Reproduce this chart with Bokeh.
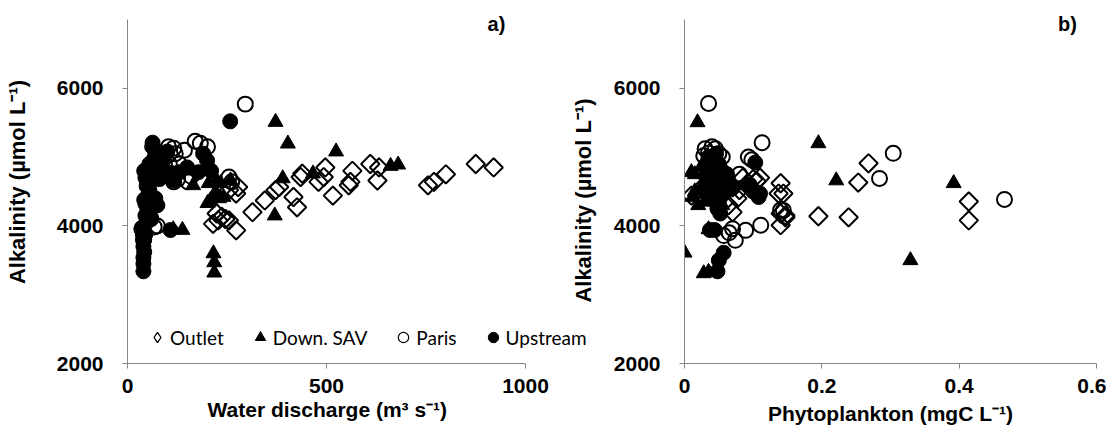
from math import pi, nan
from bokeh.plotting import figure
from bokeh.layouts import row
from bokeh.models import Range1d, FixedTicker, Legend, LegendItem, Label, Title
from bokeh.embed import file_html
from bokeh.resources import INLINE

# ---------------- data: panel a (water discharge, m3/s vs alkalinity) ----------------
outlet_q = [875, 920, 800, 770, 755, 632, 610, 628, 565, 560, 556, 497, 493, 480, 516, 439, 435,
            426, 417, 381, 372, 345, 314, 278, 273, 273, 255, 228, 224, 237, 246, 215, 255]
outlet_alk_a = [4900, 4850, 4750, 4640, 4590, 4850, 4900, 4660, 4800, 4640, 4590, 4850, 4710, 4640,
                4440, 4760, 4710, 4270, 4420, 4565, 4520, 4370, 4200, 4565, 4470, 3935, 4080, 4080,
                4180, 4130, 4100, 4030, 4520]

sav_q = [372, 403, 524, 390, 370, 466, 661, 680, 216, 218, 218, 115, 138, 165, 204, 234, 204, 224,
         241, 201, 221, 259, 230, 208]
sav_alk_a = [5510, 5195, 5080, 4690, 4150, 4760, 4870, 4890, 3600, 3470, 3320, 3950, 3940, 4590,
             4620, 4620, 4850, 4660, 4420, 4330, 4490, 4660, 4400, 4370]

paris_q = [296, 183, 170, 201, 143, 103, 120, 116, 76, 90, 116, 152, 126, 255, 262, 67, 75, 36, 40,
           40, 53, 58, 95, 105, 80, 130, 160]
paris_alk_a = [5770, 5200, 5230, 5150, 5100, 5150, 5050, 5130, 5070, 5000, 4640, 4640, 4680, 4710,
               4640, 3985, 4000, 3960, 3800, 3870, 4180, 4120, 4750, 4900, 4800, 4900, 4720]

up_q = [40, 40, 40, 42, 40, 42, 45, 38, 48, 45, 50, 45, 42, 52, 55, 48, 50, 45, 58, 42, 60, 55, 65,
        70, 62, 63, 75, 80, 90, 100, 85, 110, 116, 108, 150, 178, 200, 190, 210, 258, 70, 75, 60, 130]
up_alk_a = [3340, 3450, 3540, 3620, 3700, 3800, 3880, 3980, 4050, 4150, 4230, 4320, 4380, 4450,
            4520, 4580, 4650, 4700, 4750, 4800, 4850, 4900, 4960, 5050, 5150, 5210, 4760, 4680,
            4950, 5080, 4850, 4770, 4660, 3940, 4850, 4780, 4950, 5050, 4800, 5520, 4400, 4300,
            4100, 4780]

# ---------------- data: panel b (phytoplankton, mgC/L vs alkalinity) ----------------
outlet_phy = [0.01, 0.137, 0.140, 0.144, 0.140, 0.147, 0.140, 0.147, 0.195, 0.239, 0.253, 0.268,
              0.414, 0.414, 0.077, 0.064, 0.080, 0.090, 0.100, 0.070, 0.105, 0.060, 0.050, 0.085,
              0.095, 0.110, 0.070, 0.030, 0.045, 0.055, 0.035, 0.040]
outlet_alk_b = [4440, 4470, 4620, 4470, 4180, 4125, 4010, 4150, 4140, 4125, 4630, 4910, 4355,
                4080, 4400, 4300, 4520, 4600, 4680, 4560, 4650, 4700, 4620, 4700, 4560, 4700,
                4200, 4600, 4650, 4500, 4750, 4800]

sav_phy = [0.019, 0.195, 0.221, 0.392, 0.329, 0.0, 0.028, 0.035, 0.01, 0.015, 0.012, 0.02, 0.03,
           0.025, 0.04, 0.05, 0.045, 0.06, 0.035, 0.04, 0.015, 0.05, 0.03, 0.055]
sav_alk_b = [5505, 5200, 4660, 4620, 3500, 3610, 3310, 3330, 4780, 4750, 4420, 4300, 4350, 4870,
             4700, 4800, 4880, 4750, 3950, 4400, 4500, 4550, 4650, 4300]

paris_phy = [0.035, 0.113, 0.304, 0.284, 0.466, 0.030, 0.035, 0.040, 0.045, 0.028, 0.050, 0.055,
             0.093, 0.098, 0.057, 0.070, 0.089, 0.111, 0.074, 0.065, 0.144, 0.140, 0.080, 0.035,
             0.060]
paris_alk_b = [5780, 5210, 5055, 4690, 4385, 5120, 5060, 5150, 5120, 5020, 5050, 5000, 5000, 4960,
               3860, 3960, 3935, 4010, 3790, 3900, 4225, 4230, 4750, 4900, 4650]

up_phy = [0.048, 0.050, 0.057, 0.037, 0.044, 0.052, 0.048, 0.103, 0.108, 0.106, 0.040, 0.035,
          0.030, 0.045, 0.040, 0.038, 0.050, 0.055, 0.042, 0.035, 0.060, 0.030, 0.045, 0.050,
          0.055, 0.065, 0.070, 0.095, 0.100, 0.036, 0.043, 0.032, 0.048, 0.058, 0.062, 0.046,
          0.039, 0.033, 0.052, 0.110]
up_alk_b = [3340, 3500, 3610, 3940, 3940, 4180, 4250, 4920, 4420, 4470, 4980, 5000, 4850, 4700,
            4600, 4500, 4900, 4800, 4750, 4650, 4700, 4550, 4400, 4350, 4450, 4600, 4550, 4600,
            4500, 4820, 4850, 4700, 4300, 4520, 4750, 5050, 4900, 4450, 4620, 4470]

series_names = ["Outlet", "Down. SAV", "Paris", "Upstream"]
x_ticks_a = [0, 500, 1000]
x_ticks_b = [0, 0.2, 0.4, 0.6]
x_tick_labels_b = ["0", "0.2", "0.4", "0.6"]
y_ticks = [2000, 4000, 6000]
y_axis_span = (2000, 7000)

AXIS_GREY = "#868686"
TICK_FONT = "Liberation Sans"

# frame geometry (px): frame top at page top so the panel letters are not clipped;
# axis from 2000 to 7000 occupies the lower 344 px of a 363 px tall frame
FRAME_H = 363
AXIS_H = 344
Y_TOP = y_axis_span[0] + (y_axis_span[1] - y_axis_span[0]) * FRAME_H / AXIS_H


def style_axes(p):
    for ax in (p.xaxis[0], p.yaxis[0]):
        ax.axis_line_color = AXIS_GREY
        ax.axis_line_width = 1
        ax.major_tick_line_color = AXIS_GREY
        ax.major_tick_out = 5
        ax.major_tick_in = 0
        ax.minor_tick_line_color = None
        ax.major_label_text_font = TICK_FONT
        ax.major_label_text_font_style = "bold"
        ax.major_label_text_font_size = "21px"
        ax.major_label_text_color = "black"
        ax.axis_label_text_font = TICK_FONT
        ax.axis_label_text_font_style = "bold"
        ax.axis_label_text_color = "black"
    p.xaxis[0].major_label_standoff = 10
    p.yaxis[0].major_label_standoff = 19
    p.xaxis[0].axis_label_text_font_size = "21px"
    p.xaxis[0].axis_label_standoff = 6
    p.yaxis[0].axis_label_text_font_size = "22px"
    p.yaxis[0].axis_label_standoff = 24
    p.yaxis[0].ticker = FixedTicker(ticks=y_ticks)
    p.yaxis[0].bounds = y_axis_span
    p.grid.visible = False
    p.outline_line_color = None


def add_series(p, xs):
    r_out = p.scatter(xs[0][0], xs[0][1], marker="square", angle=pi / 4, size=13,
                      fill_color=None, line_color="black", line_width=2)
    r_sav = p.scatter(xs[1][0], xs[1][1], marker="triangle", size=15,
                      fill_color="black", line_color="black", line_width=1)
    r_par = p.scatter(xs[2][0], xs[2][1], marker="circle", size=15,
                      fill_color=None, line_color="black", line_width=2)
    r_up = p.scatter(xs[3][0], xs[3][1], marker="circle", size=15,
                     fill_color="black", line_color="black", line_width=1)
    return [r_out, r_sav, r_par, r_up]


def bold_label(p, x, y, text, size, angle=0.0):
    p.add_layout(Label(x=x, y=y, x_units="screen", y_units="screen", text=text, angle=angle,
                       text_align="center", text_baseline="middle", text_font=TICK_FONT,
                       text_font_style="bold", text_font_size=size, text_color="black"))


# ---------------- panel a ----------------
# frame spans 127..600 px on the page so the legend fits; the x axis itself runs 0..1000 (398 px)
A_FRAME_W = 473
A_PX_PER_1000 = 398
p1 = figure(width=600, height=430, output_backend="svg", toolbar_location=None,
            x_range=Range1d(0, 1000 * A_FRAME_W / A_PX_PER_1000), y_range=Range1d(y_axis_span[0], Y_TOP),
            min_border_left=127, min_border_right=0, min_border_top=0, min_border_bottom=67)
style_axes(p1)
p1.xaxis[0].ticker = FixedTicker(ticks=x_ticks_a)
p1.xaxis[0].bounds = (0, 1000)
p1.yaxis[0].axis_label = "Alkalinity (µmol L⁻¹)"
# x-axis title of panel a, centred under the 0..1000 part of the frame
p1.add_layout(Title(text="Water discharge (m³ s⁻¹)", align="left", offset=80, standoff=0,
                    text_font=TICK_FONT, text_font_style="bold", text_font_size="21px",
                    text_color="black"), "below")

add_series(p1, [(outlet_q, outlet_alk_a), (sav_q, sav_alk_a),
                (paris_q, paris_alk_a), (up_q, up_alk_a)])

# legend keys (thin-lined, like the reference legend); they hold no drawable point
leg_out = p1.scatter([nan], [nan], marker="diamond", size=10, fill_color=None, line_color="black", line_width=1.3)
leg_sav = p1.scatter([nan], [nan], marker="triangle", size=10, fill_color="black", line_color="black")
leg_par = p1.scatter([nan], [nan], marker="circle", size=10, fill_color=None, line_color="black", line_width=1.2)
leg_up = p1.scatter([nan], [nan], marker="circle", size=10, fill_color="black", line_color="black")
legend = Legend(items=[LegendItem(label=n, renderers=[r]) for n, r in
                       zip(series_names, [leg_out, leg_sav, leg_par, leg_up])],
                orientation="horizontal", location=(17, 13),
                glyph_width=26, glyph_height=26, label_standoff=0, spacing=23,
                padding=0, margin=0, border_line_color=None, background_fill_alpha=0,
                label_text_font="Lato", label_text_font_size="19px", label_text_color="black")
p1.add_layout(legend)

bold_label(p1, 369, 340, "a)", "20px")
# y-axis title of panel b (it sits left of panel b's canvas)
bold_label(p1, 456, 163, "Alkalinity (µmol L⁻¹)", "22px", angle=pi / 2)

# ---------------- panel b ----------------
p2 = figure(width=506, height=430, output_backend="svg", toolbar_location=None,
            x_range=Range1d(0, 0.6), y_range=Range1d(y_axis_span[0], Y_TOP),
            min_border_left=84, min_border_right=10, min_border_top=0, min_border_bottom=67)
style_axes(p2)
p2.xaxis[0].ticker = FixedTicker(ticks=x_ticks_b)
p2.xaxis[0].major_label_overrides = {t: l for t, l in zip(x_ticks_b, x_tick_labels_b)}
p2.xaxis[0].axis_label = "Phytoplankton (mgC L⁻¹)"

add_series(p2, [(outlet_phy, outlet_alk_b), (sav_phy, sav_alk_b),
                (paris_phy, paris_alk_b), (up_phy, up_alk_b)])
bold_label(p2, 383, 340, "b)", "20px")

layout = row(p1, p2)
open("out.html", "w").write(file_html(layout, INLINE))
